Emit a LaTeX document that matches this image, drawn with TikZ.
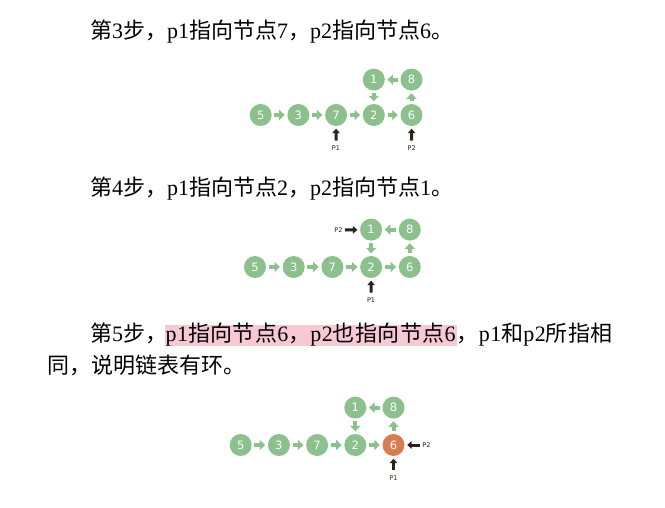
\documentclass[tikz,border=0pt]{standalone}
\usepackage{fontspec}
\setmainfont{Liberation Serif}
\newfontfamily\cjk{Noto Sans CJK SC}
\newfontfamily\cjkwide[LetterSpace=2]{Noto Sans CJK SC}
\newfontfamily\latwide[LetterSpace=2]{Liberation Serif}
\newfontfamily\numfont{DejaVu Sans}
\usetikzlibrary{arrows.meta, positioning}
\definecolor{nodegreen}{RGB}{140,192,141}
\definecolor{nodeorange}{RGB}{216,125,80}
\definecolor{ptrbrown}{RGB}{45,34,24}
\definecolor{hlpink}{RGB}{248,200,212}

\begin{document}
\begin{tikzpicture}[x=1pt,y=-1pt,
  lnode/.style={circle, fill=nodegreen, minimum size=22pt, inner sep=0pt, text=white, font=\numfont\fontsize{11.5}{11.5}\selectfont},
  hitnode/.style={lnode, fill=nodeorange},
  garrow/.style={draw=nodegreen, line width=4pt, -{Triangle[width=10pt,length=5.5pt]}, shorten <=2.5pt, shorten >=2.5pt},
  parrow/.style={draw=ptrbrown, line width=3pt, -{Triangle[width=7.5pt,length=4.5pt]}, shorten >=2.5pt},
  plabel/.style={inner sep=0pt, text=ptrbrown, font=\numfont\fontsize{6.5}{6.5}\selectfont},
  body/.style={inner sep=0pt, anchor=base west, font=\fontsize{22}{22}\selectfont}]
\useasboundingbox[fill=white] (0,0) rectangle (665,507);

% step 3
\node[body] (t1) at (90,38) {{\cjk 第}3{\cjk 步，}p1{\cjk 指向节点}7{\cjk ，}p2{\cjk 指向节点}6{\cjk 。}};
\foreach \v [count=\i from 0] in {5,3,7,2,6}
  \node[lnode] (a\v) at (260.7+37.7*\i,115) {\v};
\node[lnode, above=13pt of a2] (a1) {1};
\node[lnode, above=13pt of a6] (a8) {8};
\foreach \s/\t in {5/3,3/7,7/2,2/6,6/8,8/1,1/2}
  \draw[garrow] (a\s) -- (a\t);
\coordinate (a7p1) at (336,140.5);
\coordinate (a6p2) at (411.7,140.5);
\draw[parrow] (a7p1) -- (a7);
\draw[parrow] (a6p2) -- (a6);
\node[plabel] (la7) at (336,148) {P1};
\node[plabel] (la6) at (411.7,148) {P2};

% step 4
\node[body] (t2) at (90,195) {{\cjk 第}4{\cjk 步，}p1{\cjk 指向节点}2{\cjk ，}p2{\cjk 指向节点}1{\cjk 。}};
\foreach \v [count=\i from 0] in {5,3,7,2,6}
  \node[lnode] (b\v) at (255+38.7*\i,267) {\v};
\node[lnode, above=15pt of b2] (b1) {1};
\node[lnode, above=15pt of b6] (b8) {8};
\foreach \s/\t in {5/3,3/7,7/2,2/6,6/8,8/1,1/2}
  \draw[garrow] (b\s) -- (b\t);
\coordinate (b1p2) at (345,230);
\coordinate (b2p1) at (371.1,292.5);
\draw[parrow] (b1p2) -- (b1);
\draw[parrow] (b2p1) -- (b2);
\node[plabel] (lb1) at (338.5,230) {P2};
\node[plabel] (lb2) at (371.1,300.5) {P1};

% step 5
\node[body] (t3a) at (90,341) {{\cjk 第}5{\cjk 步，}};
\node[body, base right=-3pt of t3a, fill=hlpink, inner xsep=1pt, text height=16pt, text depth=4.5pt, font=\latwide\fontsize{22}{22}\selectfont] (t3b) {p1{\cjkwide 指向节点}6{\cjkwide ，}p2{\cjkwide 也指向节点}6};
\node[body, base right=0pt of t3b, font=\latwide\fontsize{22}{22}\selectfont] (t3c) {{\cjkwide ，}p1{\cjkwide 和}p2{\cjkwide 所指相}};
\node[body] (t4) at (47,373) {{\cjk 同，说明链表有环。}};
\foreach \v [count=\i from 0] in {5,3,7,2}
  \node[lnode] (c\v) at (240.7+38.2*\i,445) {\v};
\node[hitnode] (c6) at (393.5,445) {6};
\node[lnode, above=15pt of c2] (c1) {1};
\node[lnode, above=15pt of c6] (c8) {8};
\foreach \s/\t in {5/3,3/7,7/2,2/6,6/8,8/1,1/2}
  \draw[garrow] (c\s) -- (c\t);
\coordinate (c6p2) at (419.5,445);
\coordinate (c6p1) at (393.5,470);
\draw[parrow] (c6p2) -- (c6);
\draw[parrow] (c6p1) -- (c6);
\node[plabel] (lc6a) at (426.5,445) {P2};
\node[plabel] (lc6b) at (393.5,478) {P1};
\end{tikzpicture}
\end{document}
